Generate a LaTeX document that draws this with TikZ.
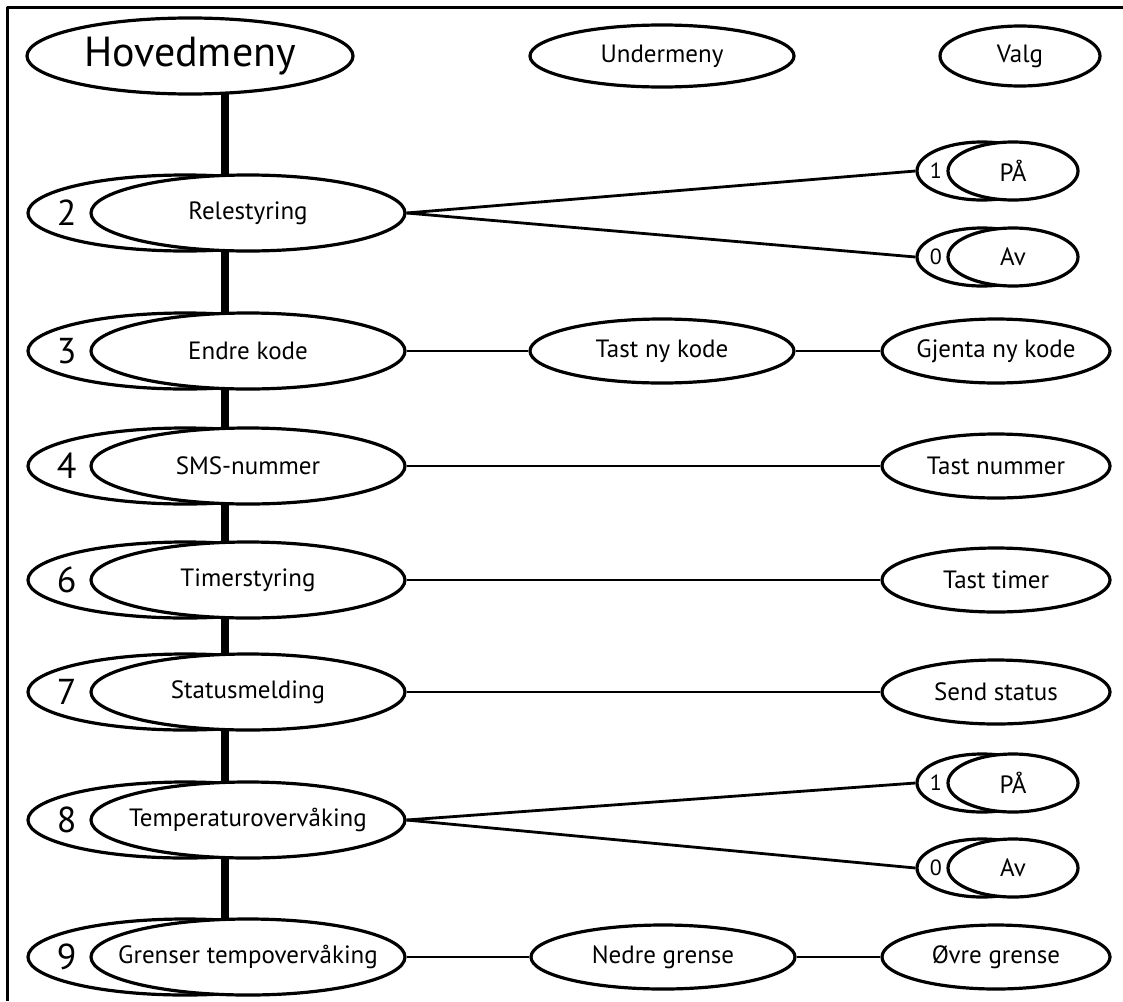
\documentclass[tikz,border=0pt]{standalone}
\usepackage{fontspec}
\setmainfont{PT Sans}
\usepackage{tikz}
\usetikzlibrary{shapes.geometric}
\usetikzlibrary{positioning}
\usetikzlibrary{backgrounds}

\begin{document}
\begin{tikzpicture}[x=0.5pt,y=-0.5pt,line join=round,
  ell/.style={ellipse,draw,line width=1.6pt,fill=white,inner sep=-25pt,font=\fontsize{12.5}{14}\selectfont},
  meny/.style={ell,minimum width=157pt,minimum height=38pt},
  midt/.style={ell,minimum width=132pt,minimum height=32pt},
  hoyre/.style={ell,minimum width=114pt,minimum height=32pt},
  valgell/.style={ell,minimum width=65pt,minimum height=29pt},
  tall/.style={inner sep=0pt,font=\fontsize{18}{20}\selectfont},
  lite/.style={inner sep=0pt,font=\fontsize{11}{12}\selectfont},
  linje/.style={line width=1.4pt},
  stamme/.style={line width=3.6pt}]
\useasboundingbox (0,0) rectangle (1123,1001);
\draw[line width=1.5pt] (7,1001) -- (7,7) -- (1123,7);
\coordinate (spine) at (225,0);
% overskrifter
\node[ell,minimum width=163pt,minimum height=38pt,font=\fontsize{21}{23}\selectfont] (hoved) at (190,56) {Hovedmeny};
\node[ell,minimum width=132pt,minimum height=31pt] (under) at (662,56) {Undermeny};
\node[ell,minimum width=80pt,minimum height=30pt] (valg) at (1020,56) {Valg};
% hovedmeny
\foreach \n/\y/\t in {2/213/Relestyring,3/351/Endre kode,4/466/SMS-nummer,6/580/Timerstyring,7/692/Statusmelding,8/820/Temperaturovervåking,9/957/Grenser tempovervåking}{
  \node[meny] (k\n) at (185,\y) {};
  \node[meny] (r\n) at (248,\y) {\t};
  \node[tall,right=15pt of k\n.west] (t\n) {\n};
}
% valg
\foreach \p/\y/\d/\t in {p2/171/1/PÅ,a2/257/0/Av,p8/783/1/PÅ,a8/868/0/Av}{
  \node[valgell] (b\p) at (982,\y) {};
  \node[valgell] (\p) at (1013,\y) {\t};
  \node[lite,right=7pt of b\p.west] (d\p) {\d};
}
\node[midt] (tast) at (662,351) {Tast ny kode};
\node[hoyre] (gjenta) at (996,351) {Gjenta ny kode};
\node[hoyre] (nummer) at (996,466) {Tast nummer};
\node[hoyre] (timer) at (996,580) {Tast timer};
\node[hoyre] (status) at (996,692) {Send status};
\node[midt] (nedre) at (663,957) {Nedre grense};
\node[hoyre] (ovre) at (996,957) {Øvre grense};
\begin{scope}[on background layer]
\draw[stamme] (hoved.center -| spine) -- (r9.center -| spine);
\end{scope}
\draw[linje] (r2.east) -- (bp2.west);
\draw[linje] (r2.east) -- (ba2.west);
\draw[linje] (r3.east) -- (tast.west);
\draw[linje] (tast.east) -- (gjenta.west);
\draw[linje] (r4.east) -- (nummer.west);
\draw[linje] (r6.east) -- (timer.west);
\draw[linje] (r7.east) -- (status.west);
\draw[linje] (r8.east) -- (bp8.west);
\draw[linje] (r8.east) -- (ba8.west);
\draw[linje] (r9.east) -- (nedre.west);
\draw[linje] (nedre.east) -- (ovre.west);
\end{tikzpicture}
\end{document}
